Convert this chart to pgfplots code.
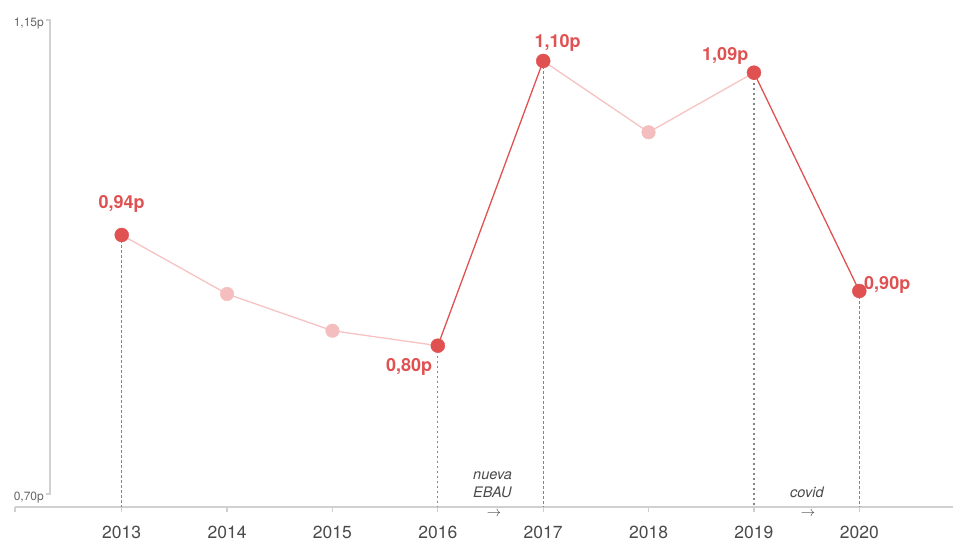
\documentclass[border=0pt]{standalone}
\usepackage{pgfplots}
\pgfplotsset{compat=1.18}
\usepackage{pgfplotstable}
\usepackage{fontspec}
\setmainfont{TeX Gyre Heros}

\definecolor{rojo}{HTML}{E05252}
\definecolor{rosa}{HTML}{F5BEBE}
\definecolor{rosalinea}{HTML}{F6C2C2}
\definecolor{eje}{HTML}{D0D0D0}
\definecolor{guia}{HTML}{858585}
\definecolor{texto}{HTML}{4A4A4A}

% nota media (puntos) por año; x = año - 2013; hl = punto destacado
\pgfplotstableread{
x year val hl
0 2013 0.9459 1
1 2014 0.8899 0
2 2015 0.8550 0
3 2016 0.8408 1
4 2017 1.1111 1
5 2018 1.0434 0
6 2019 1.1000 1
7 2020 0.8927 1
}\datos

\newcommand{\etq}{\fontsize{18bp}{20bp}\selectfont\bfseries\color{rojo}}

\begin{document}
\begin{tikzpicture}
\begin{axis}[
    scale only axis,
    width=938bp, height=487bp,
    xmin=-1.0126, xmax=7.889,
    ymin=0.68766, ymax=1.15,
    axis x line=bottom, axis y line=none,
    axis line style={eje, line width=1.2bp, -},
    xtick={0,1,2,3,4,5,6,7},
    xticklabels={2013,2014,2015,2016,2017,2018,2019,2020},
    extra x ticks={-1.0126}, extra x tick labels={},
    ytick=\empty,
    tick align=outside, major tick length=5bp,
    tick style={eje, line width=1.2bp},
    xticklabel style={font=\fontsize{17.5bp}{20bp}\selectfont, text=texto, anchor=base, yshift=-26bp},
    clip=false,
]
\coordinate (bl) at (rel axis cs:0,0);
\coordinate (ya) at (axis cs:-0.6805,0.70);
\coordinate (yb) at (axis cs:-0.6805,1.15);

% eje y
\draw[eje, line width=1.2bp] ([xshift=-4bp]ya) -- (ya) -- (yb) -- ([xshift=-4bp]yb);
\node[anchor=base east, font=\fontsize{12bp}{14bp}\selectfont, text=texto!85, inner sep=0pt]
  at ([xshift=-6bp, yshift=-6.5bp]yb) {1,15p};
\node[anchor=base east, font=\fontsize{12bp}{14bp}\selectfont, text=texto!85, inner sep=0pt]
  at ([xshift=-6bp, yshift=-6.5bp]ya) {0,70p};

% guias punteadas
\draw[guia, line width=1.3bp, dash pattern=on 2.6bp off 2.4bp] (axis cs:0,0.9459) -- (axis cs:0,0.68766);
\draw[guia, line width=1.3bp, dash pattern=on 2.6bp off 2.4bp] (axis cs:3,0.8408) -- (axis cs:3,0.68766);
\draw[guia, line width=1.3bp, dash pattern=on 2.6bp off 2.4bp] (axis cs:4,1.1111) -- (axis cs:4,0.68766);
\draw[guia, line width=1.3bp, dash pattern=on 2.6bp off 2.4bp] (axis cs:6,1.1000) -- (axis cs:6,0.68766);
\draw[guia, line width=1.3bp, dash pattern=on 2.6bp off 2.4bp] (axis cs:7,0.8927) -- (axis cs:7,0.68766);

% lineas
\addplot[rosalinea, line width=1.3bp, no marks, restrict x to domain=0:3] table[x=x, y=val] {\datos};
\addplot[rosalinea, line width=1.3bp, no marks, restrict x to domain=4:6] table[x=x, y=val] {\datos};
\addplot[rojo, line width=1.3bp, no marks, restrict x to domain=3:4] table[x=x, y=val] {\datos};
\addplot[rojo, line width=1.3bp, no marks, restrict x to domain=6:7] table[x=x, y=val] {\datos};

% puntos
\addplot[only marks, color=rosa, mark=*, mark size=6.8bp, mark options={draw=rosa, fill=rosa},
  restrict expr to domain={\thisrow{hl}}{0:0}] table[x=x, y=val] {\datos};
\addplot[only marks, color=rojo, mark=*, mark size=7bp, mark options={draw=rojo, fill=rojo},
  restrict expr to domain={\thisrow{hl}}{1:1}] table[x=x, y=val] {\datos};

% etiquetas
\node[anchor=base, inner sep=0pt] at ([yshift=26bp]axis cs:0,0.9459) {\etq 0,94p};
\node[anchor=base east, inner sep=0pt] at ([xshift=-5.5bp, yshift=-26bp]axis cs:3,0.8408) {\etq 0,80p};
\node[anchor=base, inner sep=0pt] at ([xshift=14.5bp, yshift=13bp]axis cs:4,1.1111) {\etq 1,10p};
\node[anchor=base east, inner sep=0pt] at ([xshift=-5.5bp, yshift=11.7bp]axis cs:6,1.1000) {\etq 1,09p};
\node[anchor=base west, inner sep=0pt] at ([xshift=4.7bp, yshift=2bp]axis cs:7,0.8927) {\etq 0,90p};

% anotaciones
\node[anchor=base west, inner sep=0pt, align=left, font=\fontsize{14.5bp}{18bp}\selectfont\itshape, text=texto]
  at ([xshift=458bp, yshift=9bp]bl) {nueva\\EBAU};
\node[anchor=center, inner sep=0pt, text=texto] at ([xshift=479bp, yshift=-7bp]bl) {\fontsize{15bp}{15bp}\selectfont$\rightarrow$};
\node[anchor=base west, inner sep=0pt, font=\fontsize{14.5bp}{18bp}\selectfont\itshape, text=texto]
  at ([xshift=775bp, yshift=9bp]bl) {covid};
\node[anchor=center, inner sep=0pt, text=texto] at ([xshift=793bp, yshift=-7bp]bl) {\fontsize{15bp}{15bp}\selectfont$\rightarrow$};
\end{axis}
\pgfresetboundingbox
\path ([shift={(-15bp,-33bp)}]bl) rectangle ([shift={(938bp,507bp)}]bl);
\end{tikzpicture}
\end{document}
